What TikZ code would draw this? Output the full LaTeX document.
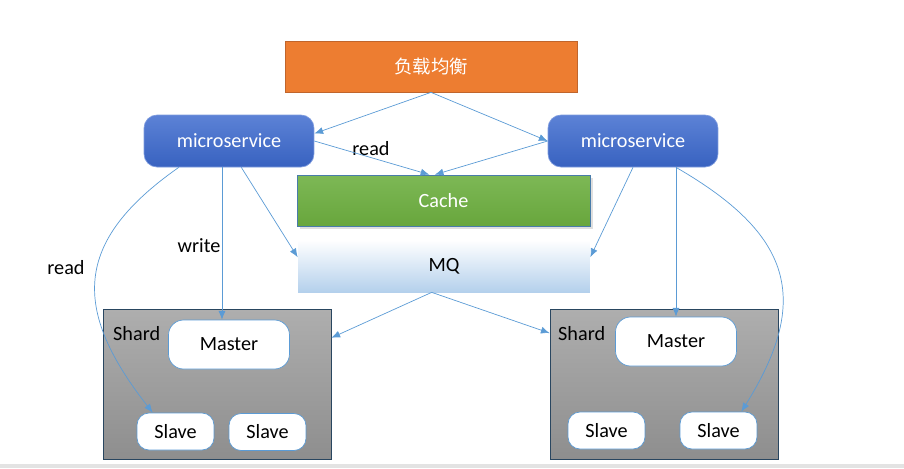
\documentclass[tikz,border=0pt]{standalone}
\usepackage{fontspec}
\setmainfont{Carlito}
\newfontfamily\cjk{Noto Sans CJK SC}
\usetikzlibrary{arrows.meta,shadows}

\definecolor{lborange}{HTML}{ED7D31}
\definecolor{lbedge}{HTML}{C0652C}
\definecolor{mstop}{HTML}{5C82D6}
\definecolor{msbot}{HTML}{3862C0}
\definecolor{cachetop}{HTML}{7DB856}
\definecolor{cachebot}{HTML}{68A63C}
\definecolor{mqbot}{HTML}{B4D0EC}
\definecolor{shardtop}{HTML}{AEAEAE}
\definecolor{shardbot}{HTML}{8E8E8E}
\definecolor{linkblue}{HTML}{5B9BD5}

\tikzset{
  lb/.style={draw=lbedge, fill=lborange, text=white, minimum width=5.84cm, minimum height=1.02cm, font=\cjk\fontsize{10.5}{12}\selectfont},
  micro/.style={draw=mstop!80!white, rounded corners=0.26cm, top color=mstop, bottom color=msbot, text=white, minimum width=3.4cm, minimum height=1.04cm, font=\fontsize{11.5}{13}\selectfont},
  cachebox/.style={draw=linkblue!80!black, top color=cachetop, bottom color=cachebot, text=white, minimum width=5.86cm, minimum height=1.02cm, font=\fontsize{11.5}{13}\selectfont, drop shadow={opacity=0.25, shadow xshift=1.5pt, shadow yshift=-1.5pt}},
  mqbox/.style={top color=white, bottom color=mqbot, minimum width=5.84cm, minimum height=1.04cm, font=\fontsize{11.5}{13}\selectfont},
  shard/.style={draw=black!55!linkblue, top color=shardtop, bottom color=shardbot, minimum width=4.56cm, minimum height=3cm},
  master/.style={draw=linkblue, fill=white, rounded corners=0.3cm, minimum width=2.42cm, minimum height=0.98cm, font=\fontsize{11.5}{13}\selectfont},
  slave/.style={draw=linkblue, fill=white, rounded corners=0.24cm, minimum width=1.54cm, minimum height=0.74cm, font=\fontsize{11.5}{13}\selectfont},
  link/.style={draw=linkblue, thin, -{Latex[length=5pt,width=4pt]}},
  lbl/.style={font=\fontsize{11.5}{13}\selectfont}
}

\begin{document}
\begin{tikzpicture}[x=0.02cm, y=-0.02cm]
	\useasboundingbox (0,0) rectangle (904,468);
	\fill[black!11] (0,464) rectangle (904,468);

	% boxes
	\node[lb]       (lb)    at (431,66.5)  {负载均衡};
	\node[micro]    (msl)   at (229,141)   {microservice};
	\node[micro]    (msr)   at (633,141)   {microservice};
	\node[cachebox] (cache) at (443.5,200.5) {Cache};
	\node[mqbox]    (mq)    at (444,266)   {MQ};

	\node[shard]    (shardl) at (217,384)  {};
	\node[shard]    (shardr) at (664,384)  {};
	\node[lbl, anchor=west] (tshl) at (107,334) {Shard};
	\node[lbl, anchor=west] (tshr) at (552,334) {Shard};

	\node[master]   (mastl) at (229,344.5) {Master};
	\node[slave]    (sl1)   at (175.5,431.5) {Slave};
	\node[slave]    (sl2)   at (267.5,432) {Slave};
	\node[master]   (mastr) at (676,341.5) {Master};
	\node[slave]    (sr1)   at (606.5,430.5) {Slave};
	\node[slave]    (sr2)   at (718.5,430.5) {Slave};

	% labels
	\node[lbl] (tread)  at (371,149) {read};
	\node[lbl] (twrite) at (199,246) {write};
	\node[lbl] (tread2) at (66,268)  {read};

	% connectors
	\path[link] (lb.south) -- (msl.5);
	\path[link] (lb.south) -- (msr.west);
	\path[link] (msl.east) -- ([xshift=-8pt]cache.north);
	\path[link] (msr.west) -- ([xshift=-5pt]cache.north);
	\path[link] ([xshift=7pt]msl.south) -- ([yshift=5pt]mq.west);
	\path[link] (msr.south) -- ([yshift=5pt]mq.east);
	\path[link] ([xshift=-4pt]msl.south) -- ([xshift=-4pt]msl.south |- mastl.north);
	\path[link] (mastr.north |- msr.south) -- (mastr.north);
	\path[link] ([xshift=20pt]msl.south west) to[out=215, in=128, looseness=1.35] ([xshift=-13pt]sl1.north);
	\path[link] (mastr.north |- msr.south) to[out=-30, in=58, looseness=1.35] ([xshift=13pt]sr2.north);
	\path[link] ([xshift=-7pt]mq.south) -- (shardl.22);
	\path[link] ([xshift=-7pt]mq.south) -- (shardr.156);
\end{tikzpicture}
\end{document}
